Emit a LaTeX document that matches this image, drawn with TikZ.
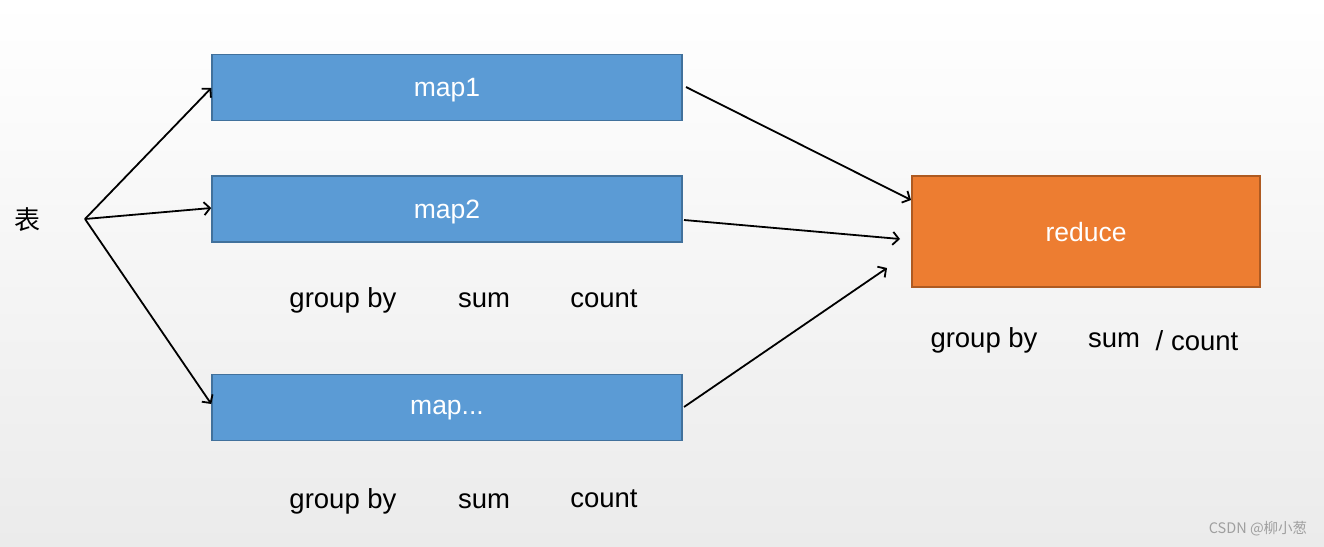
\documentclass[tikz,border=0pt]{standalone}
\usepackage{fontspec}
\setmainfont{Liberation Sans}
\newfontfamily\cjk{Noto Sans CJK SC}
\usetikzlibrary{arrows.meta}
\definecolor{mapfill}{HTML}{5B9BD5}
\definecolor{mapline}{HTML}{41719C}
\definecolor{redfill}{HTML}{ED7D31}
\definecolor{redline}{HTML}{AE5A21}
\definecolor{bgtop}{HTML}{FFFFFF}
\definecolor{bgbot}{HTML}{EBEBEB}
\tikzset{
  mapbox/.style={draw=mapline, fill=mapfill, line width=1.5pt, minimum width=470pt, minimum height=66pt, inner sep=0pt, text=white, text depth=0pt, font=\fontsize{26.5}{30}\selectfont},
  redbox/.style={draw=redline, fill=redfill, line width=1.5pt, minimum width=348pt, minimum height=111pt, inner sep=0pt, text=white, text depth=0pt, font=\fontsize{26.5}{30}\selectfont},
  lbl/.style={inner sep=0pt, text=black, font=\fontsize{27.5}{32}\selectfont},
  arr/.style={line width=1.8pt, -{Straight Barb[length=6pt,width=13pt,line width=1.8pt]}},
}
\begin{document}
\begin{tikzpicture}[x=1pt,y=-1pt]
\shade[top color=bgtop, bottom color=bgbot] (0,0) rectangle (1324,546);
\useasboundingbox (0,0) rectangle (1324,546);
\node[mapbox] (m1) at (447,87.5) {map1};
\node[mapbox] (m2) at (447,209) {map2};
\node[mapbox] (m3) at (447,407.5) {map...};
\node[redbox] (r) at (1086,231.5) {reduce};
\node[inner sep=0pt, font=\cjk\fontsize{26}{30}\selectfont\addfontfeature{Weight=Light}] (t) at (27,220) {表};
\coordinate (j) at (85,219);
\draw[arr] (j) -- (m1.west |- 0,88);
\draw[arr] (j) -- (m2.west |- 0,208);
\draw[arr] (j) -- (m3.west |- 0,404);
\coordinate (r1) at (911,200);
\coordinate (r2) at (900,239);
\coordinate (r3) at (887,268);
\draw[arr] (686,87) -- (r1);
\draw[arr] (684,220) -- (r2);
\draw[arr] (684,407) -- (r3);
\node[lbl] (g1) at (343,300) {group by};
\node[lbl] (s1) at (484,300) {sum};
\node[lbl] (c1) at (604,299) {count};
\node[lbl] (g2) at (343,501) {group by};
\node[lbl] (s2) at (484,501) {sum};
\node[lbl] (c2) at (604,499) {count};
\node[lbl] (g3) at (984,340) {group by};
\node[lbl] (s3) at (1114,340) {sum};
\node[lbl] (c3) at (1197,341) {/ count};
\node[inner sep=0pt, text=gray!75, font=\cjk\fontsize{14.5}{17}\selectfont] (w) at (1258,529) {CSDN @柳小葱};
\end{tikzpicture}
\end{document}
